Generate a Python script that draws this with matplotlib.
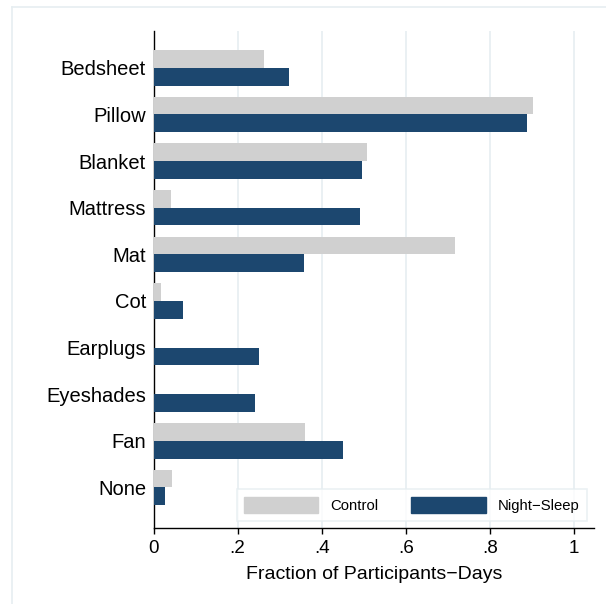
import matplotlib
matplotlib.use("Agg")
import matplotlib.pyplot as plt
import numpy as np
from matplotlib.patches import Patch
from matplotlib.lines import Line2D

categories = ["Bedsheet", "Pillow", "Blanket", "Mattress", "Mat", "Cot",
              "Earplugs", "Eyeshades", "Fan", "None"]
control = [0.263, 0.902, 0.508, 0.042, 0.717, 0.018, 0.002, 0.001, 0.361, 0.044]
night_sleep = [0.322, 0.888, 0.495, 0.491, 0.358, 0.070, 0.251, 0.241, 0.450, 0.027]
xticks = [0, 0.2, 0.4, 0.6, 0.8, 1.0]
xticklabels = ["0", ".2", ".4", ".6", ".8", "1"]

plt.rcParams['font.family'] = ['Liberation Sans', 'DejaVu Sans']

W, H = 606, 604
fig = plt.figure(figsize=(W / 100, H / 100), dpi=100)
fig.patch.set_facecolor("white")

grid_col = "#E6EEF1"
ctrl_col = "#D0D0D0"
navy = "#1C476F"

# outer graph-region border (left and top visible)
fig.add_artist(Line2D([11.5 / W, 11.5 / W], [0, 1 - 7 / H], transform=fig.transFigure,
                      color=grid_col, lw=1.2))
fig.add_artist(Line2D([11.5 / W, 1.0], [1 - 7 / H, 1 - 7 / H], transform=fig.transFigure,
                      color=grid_col, lw=1.2))

left, right, top, bottom = 153.5, 594, 31, 528
ax = fig.add_axes([left / W, 1 - bottom / H, (right - left) / W, (bottom - top) / H])

y = np.arange(len(categories))
h = 0.38
ax.barh(y - h / 2, control, height=h, color=ctrl_col, zorder=3)
ax.barh(y + h / 2, night_sleep, height=h, color=navy, zorder=3)

ax.set_ylim(len(categories) - 1 + 0.87, -0.79)
ax.set_xlim(0, (right - left) / 420.8)

ax.set_yticks(y)
ax.set_yticklabels(categories, fontsize=14.5)
ax.tick_params(axis='y', length=0, pad=5.4)

ax.set_xticks(xticks)
ax.set_xticklabels(xticklabels, fontsize=13.6)
ax.tick_params(axis='x', length=4, width=1, direction='out', pad=4.8)

for xv in xticks[1:]:
    ax.axvline(xv, color=grid_col, lw=1.2, zorder=1)

for s in ["top", "right"]:
    ax.spines[s].set_visible(False)
for s in ["left", "bottom"]:
    ax.spines[s].set_linewidth(1.0)
    ax.spines[s].set_color("black")

ax.set_xlabel("Fraction of Participants\u2212Days", fontsize=14, labelpad=6.5)

handles = [Patch(facecolor=ctrl_col, edgecolor=ctrl_col), Patch(facecolor=navy, edgecolor=navy)]
leg = fig.legend(handles, ["Control", "Night\u2212Sleep"], ncol=2,
                 loc="lower right", bbox_to_anchor=(587.3 / W, 1 - 520.7 / H),
                 bbox_transform=fig.transFigure, fontsize=10.7,
                 handlelength=5.0, handleheight=1.34, handletextpad=0.83,
                 columnspacing=2.2, borderpad=0.5, borderaxespad=0,
                 fancybox=False, frameon=True)
leg.get_frame().set_edgecolor(grid_col)
leg.get_frame().set_linewidth(1.2)
leg.get_frame().set_facecolor("white")

fig.savefig("out.png", dpi=100)
